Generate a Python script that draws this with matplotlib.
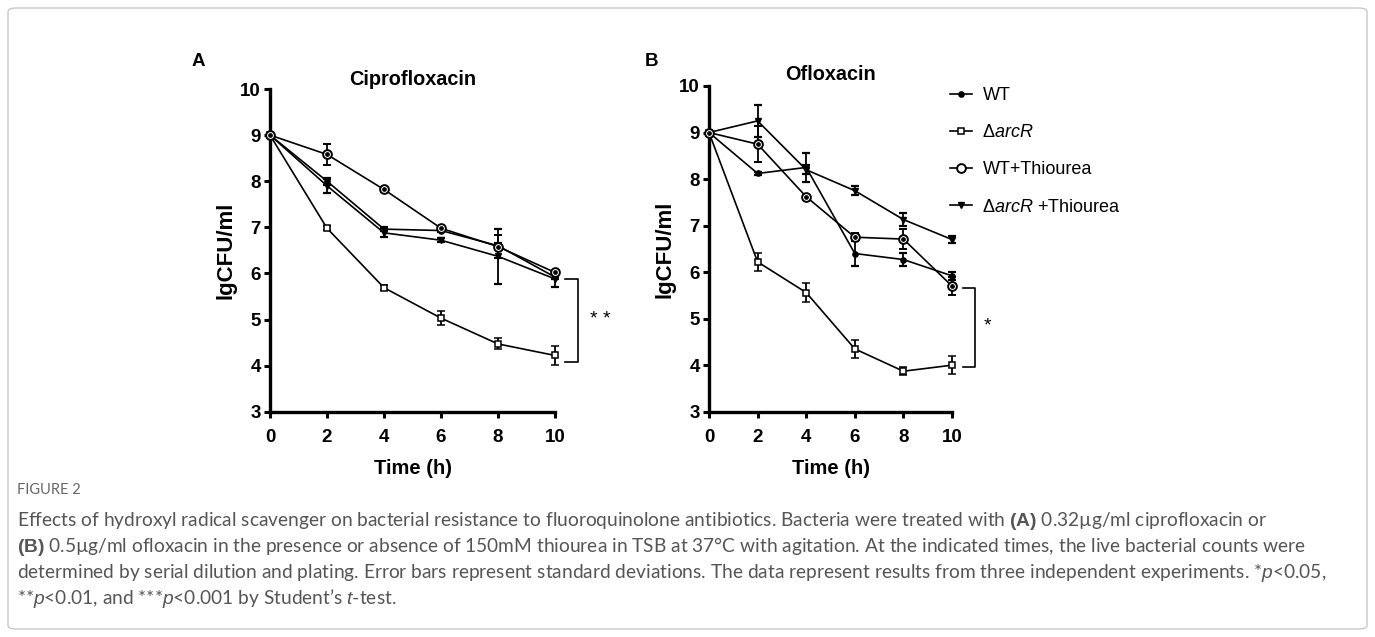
import matplotlib
matplotlib.use("Agg")
import matplotlib.pyplot as plt
from matplotlib.patches import FancyBboxPatch

plt.rcParams['font.family'] = ['Liberation Sans', 'DejaVu Sans']
plt.rcParams['mathtext.fontset'] = 'custom'
plt.rcParams['mathtext.rm'] = 'Liberation Sans'
plt.rcParams['mathtext.it'] = 'Liberation Sans:italic'
plt.rcParams['mathtext.bf'] = 'Liberation Sans:bold'

# ---------------- data ----------------
time = [0, 2, 4, 6, 8, 10]

cip_wt = [9.0, 8.00, 6.96, 6.93, 6.60, 5.92]
cip_wt_sd = [0, 0.08, 0.04, 0.03, 0.05, 0.05]
cip_arcR = [9.0, 6.98, 5.69, 5.03, 4.47, 4.22]
cip_arcR_sd = [0, 0.04, 0.06, 0.15, 0.12, 0.20]
cip_wt_thio = [9.0, 8.58, 7.82, 6.98, 6.58, 6.02]
cip_wt_thio_sd = [0, 0.22, 0.06, 0.05, 0.25, 0.04]
cip_arcR_thio = [9.0, 7.90, 6.88, 6.72, 6.37, 5.88]
cip_arcR_thio_sd = [0, 0.15, 0.10, 0.04, 0.60, 0.18]

oflo_wt = [9.0, 8.12, 8.25, 6.40, 6.27, 5.92]
oflo_wt_sd = [0, 0.03, 0.32, 0.27, 0.14, 0.08]
oflo_arcR = [9.0, 6.22, 5.56, 4.35, 3.87, 4.00]
oflo_arcR_sd = [0, 0.20, 0.20, 0.20, 0.08, 0.20]
oflo_wt_thio = [9.0, 8.75, 7.62, 6.75, 6.71, 5.70]
oflo_wt_thio_sd = [0, 0.38, 0.04, 0.08, 0.22, 0.20]
oflo_arcR_thio = [9.0, 9.25, 8.20, 7.75, 7.13, 6.70]
oflo_arcR_thio_sd = [0, 0.35, 0.10, 0.10, 0.14, 0.08]

labels = ["WT", "Δ$\\it{arcR}$", "WT+Thiourea", "Δ$\\it{arcR}$ +Thiourea"]
titles = ["Ciprofloxacin", "Ofloxacin"]
panel_letters = ["A", "B"]
xticks = [0, 2, 4, 6, 8, 10]
yticks = [3, 4, 5, 6, 7, 8, 9, 10]
sig_A = "* *"
sig_B = "*"

caption_head = "FIGURE 2"
caption_lines = [
    "Effects of hydroxyl radical scavenger on bacterial resistance to fluoroquinolone antibiotics. Bacteria were treated with $\\bf{(A)}$ 0.32µg/ml ciprofloxacin or",
    "$\\bf{(B)}$ 0.5µg/ml ofloxacin in the presence or absence of 150mM thiourea in TSB at 37°C with agitation. At the indicated times, the live bacterial counts were",
    "determined by serial dilution and plating. Error bars represent standard deviations. The data represent results from three independent experiments. *$\\it{p}$<0.05,",
    "**$\\it{p}$<0.01, and ***$\\it{p}$<0.001 by Student’s $\\it{t}$-test.",
]

W, H = 1375, 637
fig = plt.figure(figsize=(W / 100, H / 100), dpi=100)

# outer frame
frame = FancyBboxPatch((8 / W, 8 / H), (W - 16) / W, (H - 16) / H,
                       boxstyle="round,pad=0,rounding_size=0.006",
                       transform=fig.transFigure, fill=False,
                       edgecolor="#c8c8c8", linewidth=1.0)
fig.patches.append(frame)

axA = fig.add_axes([270 / W, (H - 411.7) / H, 285 / W, (411.7 - 89) / H])
axB = fig.add_axes([709 / W, (H - 411.7) / H, 243 / W, (411.7 - 86) / H])


def draw(ax, wt, wt_sd, ar, ar_sd, wtt, wtt_sd, art, art_sd):
    lw = 1.2
    ek = dict(elinewidth=1.3, capsize=2.8, capthick=1.6, ecolor='black')
    h1 = ax.errorbar(time, wt, yerr=wt_sd, color='black', lw=lw, marker='o',
                     ms=3.8, mfc='black', mec='black', zorder=3, clip_on=False, **ek)
    h2 = ax.errorbar(time, ar, yerr=ar_sd, color='black', lw=lw, marker='s',
                     ms=5.0, mfc='white', mec='black', mew=1.1, zorder=4, clip_on=False, **ek)
    h3 = ax.errorbar(time, wtt, yerr=wtt_sd, color='black', lw=lw, marker='o',
                     ms=6.3, mfc='white', mec='black', mew=1.4, zorder=4, clip_on=False, **ek)
    ax.plot(time, wtt, linestyle='none', marker='o', ms=2.4, color='black',
            zorder=5, clip_on=False)
    h4 = ax.errorbar(time, art, yerr=art_sd, color='black', lw=lw, marker='v',
                     ms=4.2, mfc='black', mec='black', zorder=3, clip_on=False, **ek)
    for s in ['top', 'right']:
        ax.spines[s].set_visible(False)
    for s in ['left', 'bottom']:
        ax.spines[s].set_linewidth(2.4)
    ax.set_xlim(0, 10)
    ax.set_ylim(3, 10)
    ax.set_xticks(xticks)
    ax.set_yticks(yticks)
    ax.tick_params(direction='out', length=4.5, width=2.2, labelsize=13.5)
    ax.tick_params(axis='x', pad=8)
    ax.tick_params(axis='y', pad=2)
    for lab in ax.get_xticklabels() + ax.get_yticklabels():
        lab.set_fontweight('bold')
    ax.set_xlabel("Time (h)", fontsize=14.5, fontweight='bold', labelpad=9)
    ax.set_ylabel("lgCFU/ml", fontsize=16, fontweight='bold', labelpad=3)
    ax.patch.set_alpha(0)
    return [h1, h2, h3, h4]


hA = draw(axA, cip_wt, cip_wt_sd, cip_arcR, cip_arcR_sd,
          cip_wt_thio, cip_wt_thio_sd, cip_arcR_thio, cip_arcR_thio_sd)
hB = draw(axB, oflo_wt, oflo_wt_sd, oflo_arcR, oflo_arcR_sd,
          oflo_wt_thio, oflo_wt_thio_sd, oflo_arcR_thio, oflo_arcR_thio_sd)

axA.set_title(titles[0], fontsize=14.3, fontweight='bold', pad=3)
axB.set_title(titles[1], fontsize=14.3, fontweight='bold', pad=4)
fig.text(198 / W, 1 - 62 / H, panel_letters[0], fontsize=13.5, fontweight='bold',
         va='center', ha='center')
fig.text(651 / W, 1 - 62 / H, panel_letters[1], fontsize=13.5, fontweight='bold',
         va='center', ha='center')

# significance brackets
axA.plot([10.35, 10.8, 10.8, 10.35], [5.88, 5.88, 4.07, 4.07],
         color='black', lw=1.2, clip_on=False)
axA.text(11.6, 5.0, sig_A, fontsize=14, ha='center', va='center')
axB.plot([10.45, 10.95, 10.95, 10.45], [5.65, 5.65, 3.95, 3.95],
         color='black', lw=1.2, clip_on=False)
axB.text(11.45, 4.85, sig_B, fontsize=14, ha='center', va='center')

# legend
leg = fig.legend([h[0] for h in hB], labels, loc='upper left',
                 bbox_to_anchor=(950 / W, 1 - 87 / H), frameon=False,
                 fontsize=13, handlelength=1.2, handletextpad=0.6,
                 labelspacing=1.12, borderpad=0, borderaxespad=0)

# caption
fig.text(17 / W, 1 - 490 / H, caption_head, fontsize=10.5, color='#666666',
         family=['Lato', 'DejaVu Sans'], va='center')
for i, line in enumerate(caption_lines):
    fig.text(17 / W, 1 - (521 + 26 * i) / H, line, fontsize=13.8, color='#555555',
             family=['Lato', 'DejaVu Sans'], va='center')

fig.savefig("out.png", dpi=100)
